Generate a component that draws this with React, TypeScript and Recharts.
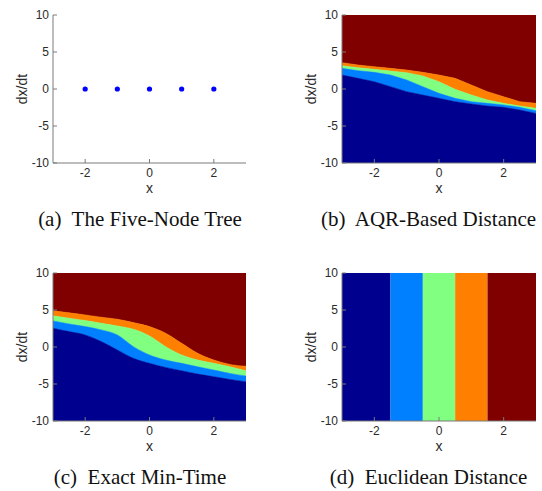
import React from "react";
import { ComposedChart, Area, Scatter, XAxis, YAxis, ReferenceArea, Label } from "recharts";

// shared x samples for the region boundaries
const xGrid = [-3, -2.5, -2, -1.5, -1, -0.5, 0, 0.5, 1, 1.5, 2, 2.5, 3];

// (a) five-node tree
const nodeX = [-2, -1, 0, 1, 2];
const nodeY = [0, 0, 0, 0, 0];

// (b) AQR-based distance: upper edge of each region
const aqrNavy = [1.89, 1.44, 0.99, 0.32, -0.36, -0.81, -1.26, -1.71, -2.03, -2.3, -2.48, -2.84, -3.3];
const aqrBlue = [2.79, 2.48, 2.25, 1.89, 1.22, 0.32, -0.59, -1.26, -1.71, -1.94, -2.16, -2.48, -2.93];
const aqrGreen = [3.15, 2.88, 2.66, 2.43, 2.21, 1.76, 0.99, -0.05, -0.81, -1.49, -1.94, -2.3, -2.61];
const aqrOrange = [3.56, 3.24, 3.02, 2.79, 2.57, 2.25, 1.89, 1.44, 0.54, -0.36, -1.04, -1.71, -1.94];

// (c) exact min-time: upper edge of each region
const minNavy = [2.54, 2.08, 1.63, 0.73, -0.4, -1.53, -2.21, -2.76, -3.21, -3.66, -4.02, -4.38, -4.7];
const minBlue = [3.53, 3.12, 2.76, 2.31, 1.63, 0.05, -1.08, -1.76, -2.21, -2.67, -3.12, -3.57, -3.93];
const minGreen = [4.21, 3.89, 3.58, 3.21, 2.85, 2.4, 1.5, 0.05, -1.08, -1.76, -2.21, -2.67, -3.2];
const minOrange = [4.89, 4.62, 4.34, 4.03, 3.76, 3.3, 2.76, 1.86, 0.5, -0.86, -1.76, -2.35, -2.6];

// (d) euclidean distance: band edges along x
const bandEdges = [-3, -1.5, -0.5, 0.5, 1.5, 3];

const xTicks = [-2, 0, 2];
const yTicks = [-10, -5, 0, 5, 10];
const xDomain = [-3, 3];
const yDomain = [-10, 10];

const JET = ["#00008f", "#0080ff", "#80ff80", "#ff8000", "#800000"];
const AXIS = "#7a7a7a";
const INK = "#2b2b2b";
const SANS = "'Liberation Sans', Arial, Helvetica, sans-serif";
const SERIF = "'Liberation Serif', 'Times New Roman', serif";

// each region is a band [lower edge, upper edge]
const rows = (navy: number[], blue: number[], green: number[], orange: number[]) =>
  xGrid.map((x, i) => ({
    x,
    r0: [yDomain[0], navy[i]],
    r1: [navy[i], blue[i]],
    r2: [blue[i], green[i]],
    r3: [green[i], orange[i]],
    r4: [orange[i], yDomain[1]],
  }));

const aqrRows = rows(aqrNavy, aqrBlue, aqrGreen, aqrOrange);
const minRows = rows(minNavy, minBlue, minGreen, minOrange);
const nodes = nodeX.map((x, i) => ({ x, y: nodeY[i] }));

const YTick = (p: any) => (
  <g>
    <line x1={p.x} x2={p.x + 4} y1={p.y} y2={p.y} stroke={AXIS} />
    <text x={p.x - 4} y={p.y + 4} textAnchor="end" fontSize={12} fill={INK} fontFamily={SANS}>
      {p.payload.value}
    </text>
  </g>
);

const XTick = (p: any) => (
  <g>
    <line x1={p.x} x2={p.x} y1={p.y} y2={p.y - 4} stroke={AXIS} />
    <text x={p.x} y={p.y + 13.5} textAnchor="middle" fontSize={12} fill={INK} fontFamily={SANS}>
      {p.payload.value}
    </text>
  </g>
);

// inward tick marks on the top / right edges of the box
const TopTick = (p: any) => <line x1={p.x} x2={p.x} y1={p.y} y2={p.y + 3.5} stroke="#4a4a4a" strokeWidth={0.8} />;
const RightTick = (p: any) => <line x1={p.x} x2={p.x - 3.5} y1={p.y} y2={p.y} stroke="#4a4a4a" strokeWidth={0.8} />;

const XLabel = (p: any) => {
  const vb = p.viewBox;
  return (
    <text x={vb.x + vb.width / 2} y={vb.y + 30} textAnchor="middle" fontSize={14} fill={INK} fontFamily={SANS}>
      x
    </text>
  );
};

const YLabel = (p: any) => {
  const vb = p.viewBox;
  const bx = vb.x + vb.width - 26.3;
  const cy = vb.y + vb.height / 2;
  return (
    <text x={bx} y={cy} transform={`rotate(-90 ${bx} ${cy})`} textAnchor="middle" fontSize={14} fill={INK} fontFamily={SANS}>
      dx/dt
    </text>
  );
};

function Panel({ left, top, axisW, right, data, caption, capLeft, box, children }: any) {
  return (
    <>
      <div style={{ position: "absolute", left, top }}>
        <ComposedChart width={271} height={198} data={data} margin={{ top: 15, right, left: 0, bottom: 0 }}>
          <XAxis
            type="number"
            dataKey="x"
            domain={xDomain}
            ticks={xTicks}
            allowDataOverflow
            height={35}
            stroke={AXIS}
            tickLine={false}
            tickSize={0}
            tickMargin={0}
            tick={XTick}
          >
            <Label content={XLabel} />
          </XAxis>
          <YAxis
            type="number"
            domain={yDomain}
            ticks={yTicks}
            allowDataOverflow
            width={axisW}
            stroke={AXIS}
            tickLine={false}
            tickSize={0}
            tickMargin={0}
            tick={YTick}
          >
            <Label content={YLabel} />
          </YAxis>
          {box && (
            <XAxis
              xAxisId="top"
              orientation="top"
              type="number"
              domain={xDomain}
              ticks={xTicks}
              allowDataOverflow
              height={0}
              axisLine={false}
              tickLine={false}
              tickSize={0}
              tickMargin={0}
              tick={TopTick}
            />
          )}
          {box && (
            <YAxis
              yAxisId="right"
              orientation="right"
              type="number"
              domain={yDomain}
              ticks={yTicks}
              allowDataOverflow
              width={0}
              axisLine={false}
              tickLine={false}
              tickSize={0}
              tickMargin={0}
              tick={RightTick}
            />
          )}
          {children}
        </ComposedChart>
      </div>
      <div
        style={{
          position: "absolute",
          left: capLeft,
          top: top + 209,
          width: 271,
          textAlign: "center",
          fontFamily: SERIF,
          fontSize: 21,
          lineHeight: "21px",
          whiteSpace: "pre",
          color: "#111",
        }}
      >
        {caption}
      </div>
    </>
  );
}

const regionAreas = (curve: "linear" | "monotone") =>
  ["r4", "r3", "r2", "r1", "r0"].map((key) => (
    <Area
      key={key}
      dataKey={key}
      type={curve}
      fill={JET[Number(key[1])]}
      fillOpacity={1}
      stroke={JET[Number(key[1])]}
      strokeWidth={0.5}
      dot={false}
      activeDot={false}
      isAnimationActive={false}
    />
  ));

export default function App() {
  return (
    <div style={{ position: "absolute", left: 0, top: 0, width: 542, height: 491, background: "#fff" }}>
      <Panel left={0} top={0} axisW={53} right={25} caption={"(a)  The Five-Node Tree"} capLeft={4.5}>
        <Scatter
          data={nodes}
          dataKey="y"
          isAnimationActive={false}
          shape={(p: any) => <circle cx={p.cx} cy={p.cy} r={2.6} fill="#0000ff" />}
        />
      </Panel>
      <Panel left={271} top={0} axisW={71} right={6} data={aqrRows} caption={"(b)  AQR-Based Distance"} capLeft={293} box>
        {regionAreas("linear")}
      </Panel>
      <Panel left={0} top={258} axisW={53} right={25} data={minRows} caption={"(c)  Exact Min-Time"} capLeft={4.5} box>
        {regionAreas("monotone")}
      </Panel>
      <Panel left={271} top={258} axisW={71} right={6} caption={"(d)  Euclidean Distance"} capLeft={293} box>
        {bandEdges.slice(0, -1).map((x1, i) => (
          <ReferenceArea key={i} x1={x1} x2={bandEdges[i + 1]} y1={yDomain[0]} y2={yDomain[1]} fill={JET[i]} fillOpacity={1} stroke="none" />
        ))}
      </Panel>
    </div>
  );
}
